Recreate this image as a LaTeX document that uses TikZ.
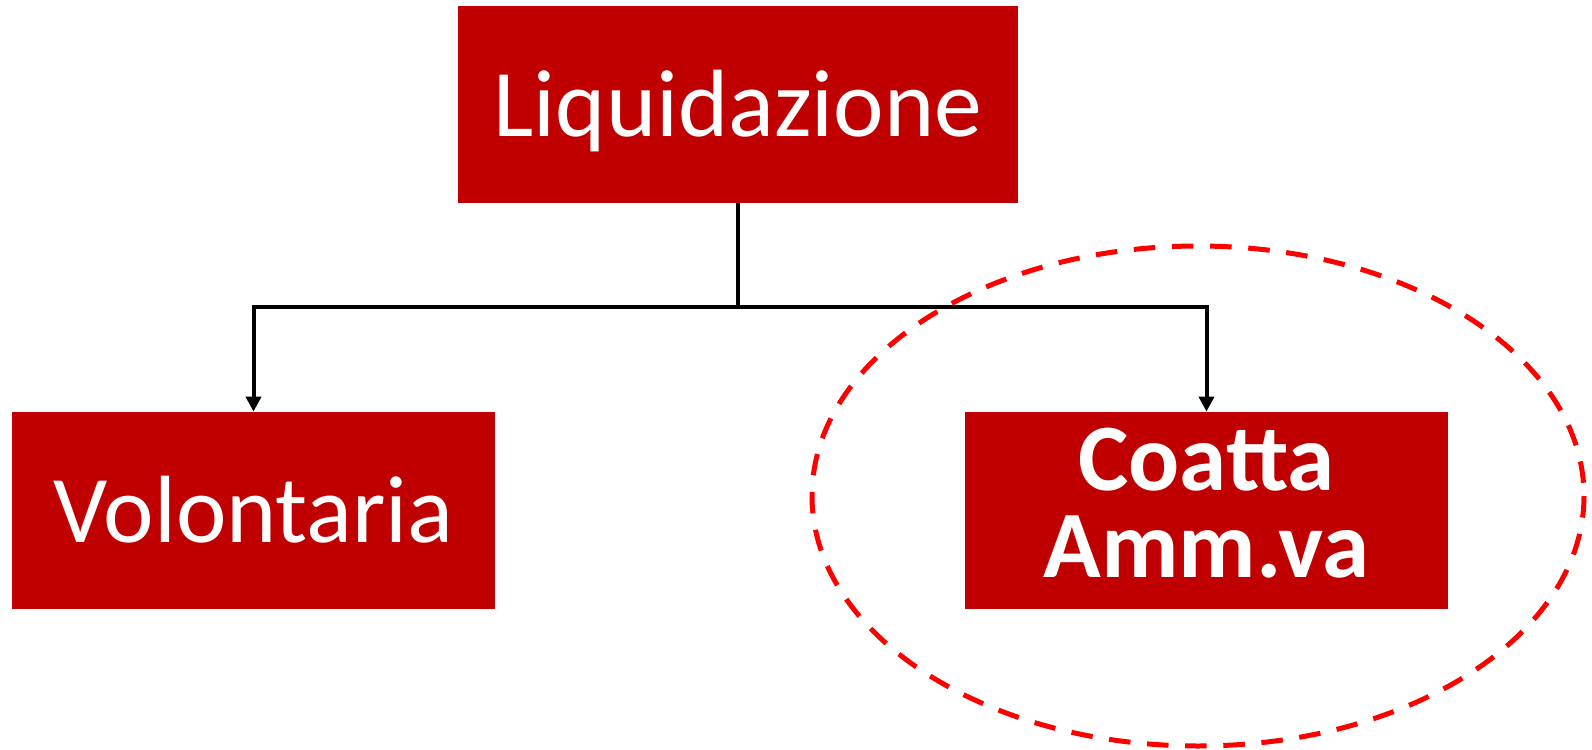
\documentclass[tikz,border=0pt]{standalone}
\usepackage{fontspec}
\setmainfont{Carlito}
\usetikzlibrary{positioning,arrows.meta,shapes.geometric}

\definecolor{boxred}{RGB}{192,0,0}
\definecolor{ringred}{RGB}{255,0,0}

\tikzset{
  box/.style={fill=boxred, text=white, minimum width=241.5pt, minimum height=98.5pt, inner sep=0pt, align=center,
    font=\fontsize{47.8}{47.8}\selectfont},
  oneline/.style={box, text height=32pt, text depth=0pt},
  link/.style={line width=2pt, color=black},
  ring/.style={draw=ringred, line width=2.5pt, dash pattern=on 10.8pt off 8.3pt}
}

\begin{document}
\begin{tikzpicture}[x=0.5pt,y=-0.5pt]
\useasboundingbox (0,0) rectangle (1592,750);
\node[oneline, minimum width=280pt] (liq) at (738,104.5) {Liquidazione};
\node[oneline] (vol) at (253.5,510.5) {Volontaria};
\node[box, text depth=8pt, font=\fontsize{47.6}{43.5}\selectfont\bfseries] (coa) at (1206.5,510.5) {Coatta\\Amm.va};
\draw[link](liq.south) -- ++(0,104) coordinate (split);
\draw[link,-{Triangle[length=7.5pt,width=7.5pt]}](split) -| (vol.north);
\draw[link,-{Triangle[length=7.5pt,width=7.5pt]}](split) -| (coa.north);
\draw[ring](1198,496) ellipse [x radius=386, y radius=250];
\end{tikzpicture}
\end{document}
